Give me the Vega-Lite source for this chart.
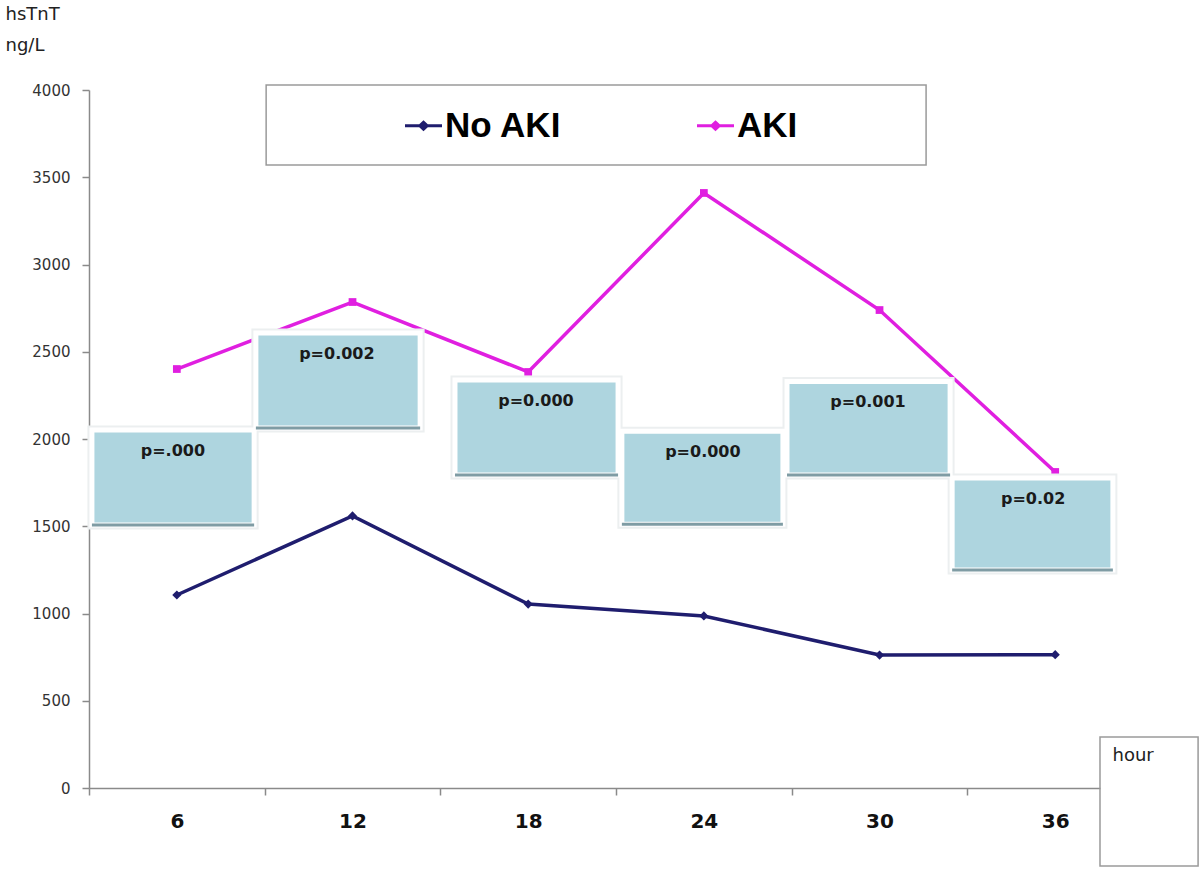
{
  "$schema": "https://vega.github.io/schema/vega-lite/v6.json",
  "width": 1011,
  "height": 698,
  "autosize": {"type": "none"},
  "padding": {"left": 89, "top": 90, "right": 100, "bottom": 81},
  "background": "white",
  "config": {"view": {"stroke": null}},
  "datasets": {
    "series": [
      {"hour": 6, "group": "No AKI", "value": 1106},
      {"hour": 12, "group": "No AKI", "value": 1559},
      {"hour": 18, "group": "No AKI", "value": 1054},
      {"hour": 24, "group": "No AKI", "value": 986},
      {"hour": 30, "group": "No AKI", "value": 762},
      {"hour": 36, "group": "No AKI", "value": 764},
      {"hour": 6, "group": "AKI", "value": 2401},
      {"hour": 12, "group": "AKI", "value": 2785},
      {"hour": 18, "group": "AKI", "value": 2384},
      {"hour": 24, "group": "AKI", "value": 3410},
      {"hour": 30, "group": "AKI", "value": 2739},
      {"hour": 36, "group": "AKI", "value": 1811}
    ],
    "pvals": [
      {"hour": 6, "label": "p=.000", "x1": 3.10, "x2": 8.64, "top": 2052, "bottom": 1507},
      {"hour": 12, "label": "p=0.002", "x1": 8.70, "x2": 14.31, "top": 2607, "bottom": 2063},
      {"hour": 18, "label": "p=0.000", "x1": 15.50, "x2": 21.07, "top": 2338, "bottom": 1794},
      {"hour": 24, "label": "p=0.000", "x1": 21.20, "x2": 26.70, "top": 2045, "bottom": 1512},
      {"hour": 30, "label": "p=0.001", "x1": 26.84, "x2": 32.41, "top": 2330, "bottom": 1794},
      {"hour": 36, "label": "p=0.02", "x1": 32.48, "x2": 37.97, "top": 1777, "bottom": 1249}
    ],
    "frame": [{"item": "box"}]
  },
  "layer": [
    {
      "data": {"name": "frame"},
      "mark": {"type": "rect", "fill": "white", "stroke": "#9a9a9a", "strokeWidth": 1.5},
      "encoding": {
        "x": {"datum": 9.05, "type": "quantitative"},
        "x2": {"datum": 31.59},
        "y": {"datum": 4029, "type": "quantitative"},
        "y2": {"datum": 3570}
      }
    },
    {
      "data": {"name": "frame"},
      "mark": {"type": "rect", "fill": "transparent", "stroke": "#9a9a9a", "strokeWidth": 1.5},
      "encoding": {
        "x": {"datum": 37.53, "type": "quantitative"},
        "x2": {"datum": 40.88},
        "y": {"datum": 292, "type": "quantitative"},
        "y2": {"datum": -447}
      }
    },
    {
      "data": {"name": "series"},
      "mark": {"type": "line", "strokeWidth": 3.5},
      "encoding": {
        "x": {
          "field": "hour",
          "type": "quantitative",
          "scale": {"domain": [3, 37.53], "nice": false, "zero": false},
          "axis": {
            "title": "hour",
            "titleX": 1023,
            "titleY": -42,
            "titleAlign": "left",
            "titleBaseline": "top",
            "titleFont": "DejaVu Sans",
            "titleFontSize": 18,
            "titleFontWeight": "normal",
            "titleColor": "#222",
            "values": [3, 6, 9, 12, 15, 18, 21, 24, 27, 30, 33, 36],
            "labelExpr": "datum.value % 6 == 0 ? datum.label : ''",
            "tickColor": {"condition": {"test": "datum.value % 6 == 3", "value": "#8a8a8a"}, "value": "transparent"},
            "tickSize": 7,
            "tickWidth": 1.5,
            "domainColor": "#8a8a8a",
            "domainWidth": 1.5,
            "labelFont": "DejaVu Sans",
            "labelFontSize": 20,
            "labelFontWeight": "bold",
            "labelColor": "#111",
            "labelPadding": 16,
            "grid": false
          }
        },
        "y": {
          "field": "value",
          "type": "quantitative",
          "scale": {"domain": [0, 4000], "nice": false},
          "axis": {
            "title": ["hsTnT", "ng/L"],
            "titleAngle": 0,
            "titleAlign": "left",
            "titleBaseline": "top",
            "titleX": -84,
            "titleY": -85,
            "titleFont": "DejaVu Sans",
            "titleFontSize": 18,
            "titleFontWeight": "normal",
            "titleLineHeight": 31,
            "titleColor": "#222",
            "values": [0, 500, 1000, 1500, 2000, 2500, 3000, 3500, 4000],
            "format": "d",
            "tickSize": 7,
            "tickColor": "#8a8a8a",
            "tickWidth": 1.5,
            "domainColor": "#8a8a8a",
            "domainWidth": 1.5,
            "labelFont": "DejaVu Sans",
            "labelFontSize": 15,
            "labelColor": "#333",
            "labelPadding": 12,
            "grid": false
          }
        },
        "color": {
          "field": "group",
          "type": "nominal",
          "scale": {"domain": ["No AKI", "AKI"], "range": ["#1f1d6e", "#e01fe0"]},
          "legend": {
            "orient": "none",
            "legendX": 316,
            "legendY": 17,
            "direction": "horizontal",
            "title": null,
            "padding": 0,
            "labelFont": "Liberation Sans",
            "labelFontSize": 35,
            "labelFontWeight": "bold",
            "labelColor": "#000",
            "labelOffset": 3,
            "labelLimit": 400,
            "columnPadding": 135,
            "symbolSize": 1369,
            "symbolStrokeWidth": 0,
            "symbolOpacity": 1,
            "symbolType": "M-1,-0.08H1V0.08H-1Z M-0.32,0L0,-0.3L0.32,0L0,0.3Z"
          }
        }
      }
    },
    {
      "data": {"name": "series"},
      "transform": [{"filter": "datum.group === 'No AKI'"}],
      "mark": {"type": "point", "filled": true, "opacity": 1, "shape": "diamond", "size": 85},
      "encoding": {
        "x": {"field": "hour", "type": "quantitative"},
        "y": {"field": "value", "type": "quantitative"},
        "color": {"field": "group", "type": "nominal"}
      }
    },
    {
      "data": {"name": "series"},
      "transform": [{"filter": "datum.group === 'AKI'"}],
      "mark": {"type": "point", "filled": true, "opacity": 1, "shape": "square", "size": 60},
      "encoding": {
        "x": {"field": "hour", "type": "quantitative"},
        "y": {"field": "value", "type": "quantitative"},
        "color": {"field": "group", "type": "nominal"}
      }
    },
    {
      "data": {"name": "pvals"},
      "mark": {"type": "rect", "fill": "#aed5df", "stroke": "#eceff0", "strokeWidth": 9},
      "encoding": {
        "x": {"field": "x1", "type": "quantitative"},
        "x2": {"field": "x2"},
        "y": {"field": "top", "type": "quantitative"},
        "y2": {"field": "bottom"}
      }
    },
    {
      "data": {"name": "pvals"},
      "mark": {"type": "rect", "fill": "#aed5df", "stroke": "white", "strokeWidth": 5},
      "encoding": {
        "x": {"field": "x1", "type": "quantitative"},
        "x2": {"field": "x2"},
        "y": {"field": "top", "type": "quantitative"},
        "y2": {"field": "bottom"}
      }
    },
    {
      "data": {"name": "pvals"},
      "mark": {"type": "rule", "stroke": "#7f9ca4", "strokeWidth": 3},
      "encoding": {
        "x": {"field": "x1", "type": "quantitative"},
        "x2": {"field": "x2"},
        "y": {"field": "bottom", "type": "quantitative"}
      }
    },
    {
      "data": {"name": "pvals"},
      "mark": {"type": "text", "font": "DejaVu Sans", "fontSize": 16, "fontWeight": "bold", "color": "#1a1a1a", "align": "center", "baseline": "middle", "dx": 81, "dy": 21},
      "encoding": {
        "x": {"field": "x1", "type": "quantitative"},
        "y": {"field": "top", "type": "quantitative"},
        "text": {"field": "label"}
      }
    }
  ]
}
